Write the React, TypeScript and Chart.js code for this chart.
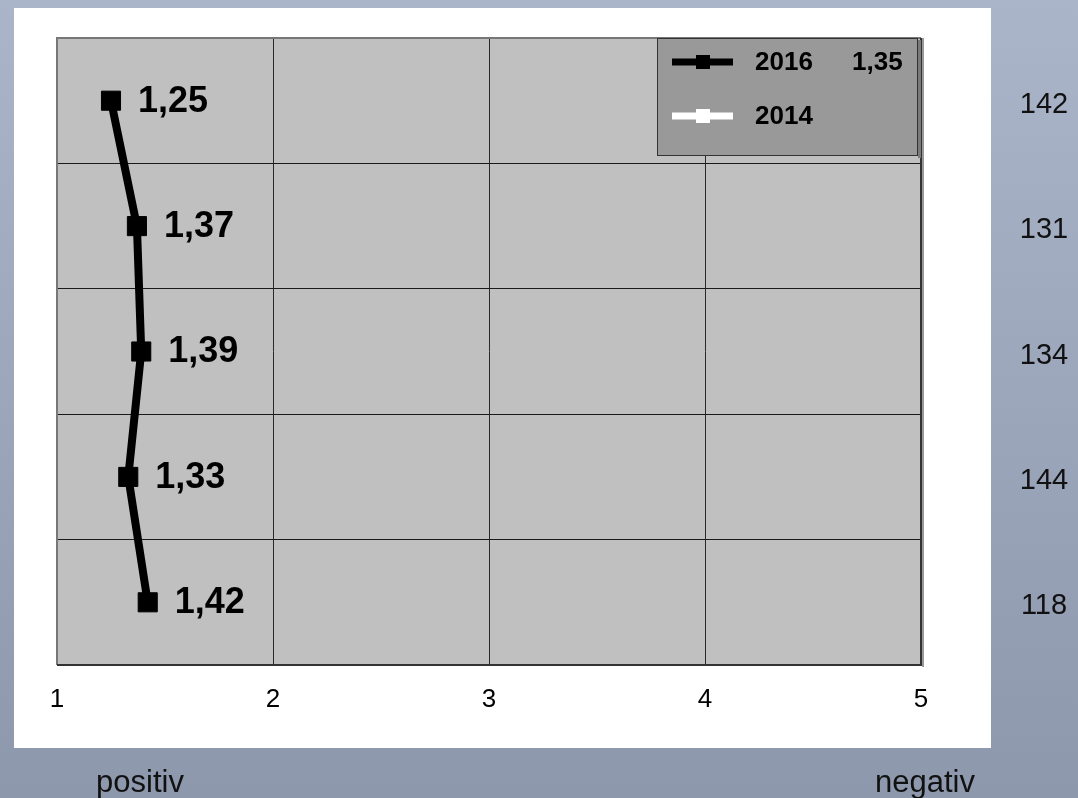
import React, { useEffect, useRef } from "react";
import { Chart, registerables } from "chart.js";

Chart.register(...registerables);

const rowIndex = [0, 1, 2, 3, 4];
const values2016 = [1.25, 1.37, 1.39, 1.33, 1.42];
const values2014: number[] = [];
const valueLabels = ["1,25", "1,37", "1,39", "1,33", "1,42"];
const rightLabels = ["142", "131", "134", "144", "118"];
const xTicks = [1, 2, 3, 4, 5];
const legendNames = ["2016", "2014"];
const legendExtra = "1,35";
const bottomLeft = "positiv";
const bottomRight = "negativ";

const FONT = '"Liberation Sans", Arial, sans-serif';

const decorPlugin = {
  id: "decor",
  beforeDraw(chart: any) {
    const { ctx, width, height, chartArea: a } = chart;
    ctx.save();
    const g = ctx.createLinearGradient(0, 0, 0, height);
    g.addColorStop(0, "#abb5ca");
    g.addColorStop(1, "#8e98ad");
    ctx.fillStyle = g;
    ctx.fillRect(0, 0, width, height);
    ctx.fillStyle = "#ffffff";
    ctx.fillRect(14, 8, 977, 740);
    ctx.fillStyle = "#c0c0c0";
    ctx.fillRect(a.left, a.top, a.right - a.left, a.bottom - a.top);
    ctx.restore();
  },
  afterDatasetsDraw(chart: any) {
    const { ctx } = chart;
    const xs = chart.scales.x;
    const ys = chart.scales.y;
    ctx.save();
    ctx.fillStyle = "#000";
    ctx.font = `bold 36px ${FONT}`;
    ctx.textBaseline = "middle";
    ctx.textAlign = "left";
    values2016.forEach((v, i) => {
      ctx.fillText(valueLabels[i], xs.getPixelForValue(v) + 27, ys.getPixelForValue(rowIndex[i] + 0.5) + 1);
    });
    ctx.restore();
  },
  afterDraw(chart: any) {
    const { ctx, chartArea: a } = chart;
    const ys = chart.scales.y;
    ctx.save();
    // frame
    ctx.strokeStyle = "#777";
    ctx.lineWidth = 2;
    ctx.beginPath();
    ctx.moveTo(a.left, a.bottom);
    ctx.lineTo(a.left, a.top);
    ctx.lineTo(a.right, a.top);
    ctx.stroke();
    ctx.strokeStyle = "#333";
    ctx.beginPath();
    ctx.moveTo(a.left, a.bottom);
    ctx.lineTo(a.right, a.bottom);
    ctx.lineTo(a.right, a.top);
    ctx.stroke();
    ctx.strokeStyle = "#999";
    ctx.lineWidth = 2;
    ctx.beginPath();
    ctx.moveTo(a.right + 2, a.top);
    ctx.lineTo(a.right + 2, a.bottom + 2);
    ctx.stroke();

    // legend box
    const lx = 657, ly = 38, lw = 261, lh = 118;
    ctx.fillStyle = "#7a7a7a";
    ctx.fillRect(lx + lw, ly + 2, 3, lh);
    ctx.fillStyle = "#999999";
    ctx.fillRect(lx, ly, lw, lh);
    ctx.strokeStyle = "#333";
    ctx.lineWidth = 1;
    ctx.strokeRect(lx + 0.5, ly + 0.5, lw - 1, lh - 1);
    const rowsY = [62, 116];
    const cols = ["#000000", "#ffffff"];
    rowsY.forEach((yy, i) => {
      ctx.strokeStyle = cols[i];
      ctx.fillStyle = cols[i];
      ctx.lineWidth = 7;
      ctx.beginPath();
      ctx.moveTo(672, yy);
      ctx.lineTo(733, yy);
      ctx.stroke();
      ctx.fillRect(696, yy - 7, 14, 14);
      ctx.fillStyle = "#000";
      ctx.font = `bold 26px ${FONT}`;
      ctx.textBaseline = "middle";
      ctx.textAlign = "left";
      ctx.fillText(legendNames[i], 755, yy + 1);
    });
    ctx.fillText(legendExtra, 852, rowsY[0] + 1);

    // right labels
    ctx.font = `29px ${FONT}`;
    ctx.fillStyle = "#111";
    ctx.textAlign = "center";
    ctx.textBaseline = "middle";
    rightLabels.forEach((t, i) => {
      ctx.fillText(t, 1044, ys.getPixelForValue(rowIndex[i] + 0.5) + 4);
    });

    // bottom labels
    ctx.font = `31px ${FONT}`;
    ctx.textBaseline = "alphabetic";
    ctx.fillText(bottomLeft, 140, 792);
    ctx.fillText(bottomRight, 925, 792);
    ctx.restore();
  },
};

export default function App() {
  const ref = useRef<HTMLCanvasElement | null>(null);
  useEffect(() => {
    if (!ref.current) return;
    const chart = new Chart(ref.current, {
      type: "scatter",
      data: {
        datasets: [
          {
            label: legendNames[0],
            data: values2016.map((v, i) => ({ x: v, y: rowIndex[i] + 0.5 })),
            showLine: true,
            borderColor: "#000",
            backgroundColor: "#000",
            borderWidth: 8,
            pointStyle: "rect",
            pointRadius: 13.5,
            pointBorderWidth: 1,
            pointBorderColor: "#000",
            pointBackgroundColor: "#000",
            tension: 0,
          },
          {
            label: legendNames[1],
            data: values2014.map((v, i) => ({ x: v, y: rowIndex[i] + 0.5 })),
            showLine: true,
            borderColor: "#fff",
            backgroundColor: "#fff",
            borderWidth: 8,
            pointStyle: "rect",
          },
        ],
      },
      plugins: [decorPlugin],
      options: {
        responsive: false,
        animation: false,
        layout: { padding: { left: 57, top: 38, right: 157, bottom: 63 } },
        plugins: { legend: { display: false }, tooltip: { enabled: false } },
        scales: {
          x: {
            type: "linear",
            min: 1,
            max: 5,
            afterFit: (s: any) => {
              s.height = 70;
            },
            afterBuildTicks: (s: any) => {
              s.ticks = xTicks.map((v) => ({ value: v }));
            },
            ticks: {
              font: { size: 26, family: FONT },
              color: "#000",
              padding: 19,
              maxRotation: 0,
              autoSkip: false,
            },
            grid: { color: "#2a2a2a", lineWidth: 1, drawTicks: false },
            border: { display: false },
          },
          y: {
            type: "linear",
            min: 0,
            max: 5,
            reverse: true,
            afterFit: (s: any) => {
              s.width = 0;
            },
            ticks: { display: false, stepSize: 1 },
            grid: { color: "#1a1a1a", lineWidth: 1, drawTicks: false },
            border: { display: false },
          },
        },
      },
    });
    return () => chart.destroy();
  }, []);
  return (
    <div style={{ position: "absolute", left: 0, top: 0, width: 1078, height: 798 }}>
      <canvas ref={ref} width={1078} height={798} style={{ display: "block" }} />
    </div>
  );
}
